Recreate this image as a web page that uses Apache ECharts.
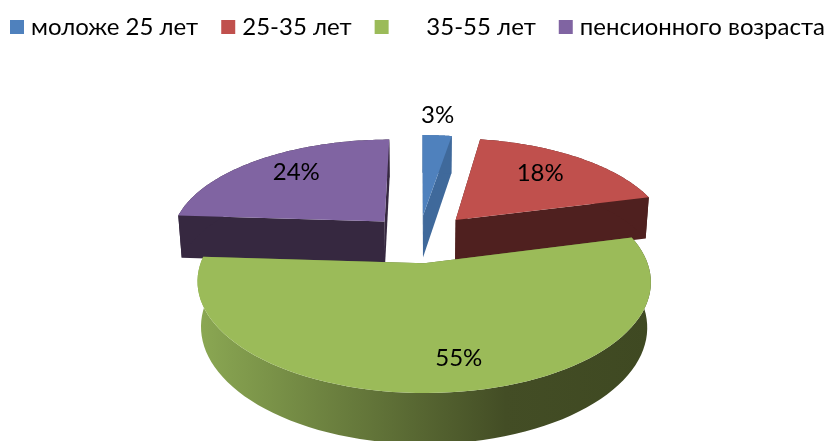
<!DOCTYPE html>
<html>
<head>
<meta charset="utf-8">
<style>
  html, body { margin: 0; padding: 0; background: #fff; }
  #chart { width: 836px; height: 441px; }
</style>
<script src="https://cdn.jsdelivr.net/npm/echarts@6/dist/echarts.min.js"></script>
</head>
<body>
<div id="chart"></div>
<script>
const categories = ['моложе 25 лет', '25-35 лет', '     35-55 лет', 'пенсионного возраста']
const values = [2.6, 18.4, 55, 24]

const topColors = ['#4f81bd', '#c0504d', '#9bbb59', '#8064a2']
const faceColors = ['#3f699b', '#4f201f', '#5f7038', '#362840']
const FONT = 'Lato, "Open Sans", sans-serif'

// projection of the tilted disc
const view = { cx: 419, cy: 238.5, rx: 215, ry: 100, persp: 0.16, depth: 44, sink: 0.015 }
const explode = [0.24, 0.26, 0.24, 0.24]
// where the percent label sits: distance along the slice middle, then a small nudge
const labelAt = [[1.29, -3, -1], [0.7, -4, -2], [0.75, 16, 3], [0.7, 2, -4]]
const stacking = [3, 3, 4, 2]

const total = values.reduce((a, b) => a + b, 0)

function project(x, y, z) {
  const d = 1 + view.persp * y + view.sink * z
  return [view.cx + view.rx * x / d, view.cy + (-view.ry * y + view.depth * z) / d]
}

function renderSlice(index) {
  return function(params, api) {
    const before = values.slice(0, index).reduce((a, b) => a + b, 0)
    const from = before / total * Math.PI * 2
    const to = (before + api.value(0)) / total * Math.PI * 2
    const mid = (from + to) / 2
    const ox = Math.sin(mid) * explode[index]
    const oy = Math.cos(mid) * explode[index]
    const rim = (a, z) => project(ox + Math.sin(a), oy + Math.cos(a), z)

    const arc = z => {
      const pts = []
      for (let i = 0; i <= 80; i++) {
        pts.push(rim(from + (to - from) * i / 80, z))
      }
      return pts
    }
    const apex = z => project(ox, oy, z)
    const face = fill => (points) => ({ type: 'polygon', shape: { points }, style: { fill } })
    const solid = face(faceColors[index])

    const children = []
    // cut faces first, the rim and the top go over them
    children.push(solid([apex(0), rim(from, 0), rim(from, 1), apex(1)]))
    children.push(solid([apex(0), rim(to, 0), rim(to, 1), apex(1)]))

    let rimFill = faceColors[index]
    if (index === 2) {
      rimFill = new echarts.graphic.LinearGradient(0, 0, 1, 0, [
        { offset: 0, color: '#8ba853' },
        { offset: 0.68, color: '#434d25' },
        { offset: 1, color: '#3f4922' }
      ])
    }
    children.push(face(rimFill)(arc(0).concat(arc(1).reverse())))
    children.push(face(topColors[index])([apex(0)].concat(arc(0))))

    const [rho, nx, ny] = labelAt[index]
    const pos = project(ox + Math.sin(mid) * rho, oy + Math.cos(mid) * rho, 0)
    children.push({
      type: 'text',
      style: {
        x: pos[0] + nx,
        y: pos[1] + ny,
        text: Math.round(api.value(0) / total * 100) + '%',
        fill: '#000',
        font: '24px ' + FONT,
        align: 'center',
        verticalAlign: 'middle'
      }
    })
    return { type: 'group', children }
  }
}

const series = categories.map((name, i) => ({
  name,
  type: 'custom',
  coordinateSystem: 'none',
  z: stacking[i],
  silent: true,
  itemStyle: { color: topColors[i] },
  data: [values[i]],
  renderItem: renderSlice(i)
}))

const chart = echarts.init(document.getElementById('chart'))
chart.setOption({
  animation: false,
  legend: {
    data: categories,
    left: 10,
    top: 15,
    width: 826,
    padding: 0,
    icon: 'rect',
    itemWidth: 14,
    itemHeight: 14,
    itemGap: 23,
    selectedMode: false,
    textStyle: { color: '#000', fontSize: 24, fontFamily: FONT, padding: [0, 0, 0, 2] }
  },
  series
})
</script>
</body>
</html>
